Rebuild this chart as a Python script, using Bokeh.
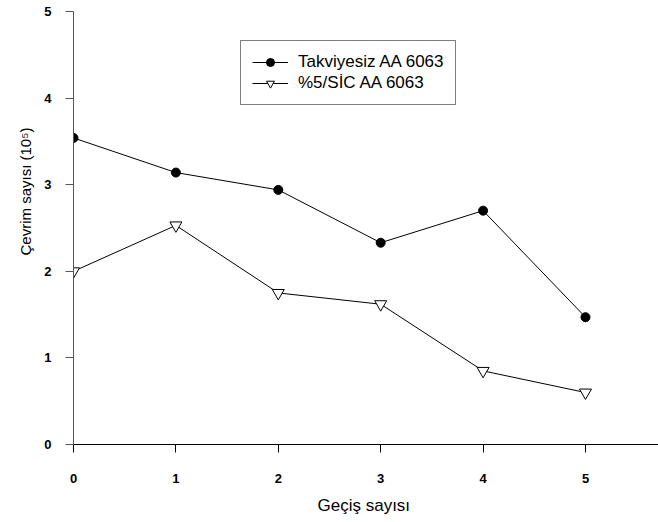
from bokeh.plotting import figure
from bokeh.models import Range1d, FixedTicker, Legend, LegendItem, Title
from bokeh.embed import file_html
from bokeh.resources import INLINE

gecis = [0, 1, 2, 3, 4, 5]
takviyesiz = [3.54, 3.14, 2.94, 2.33, 2.70, 1.47]
sic = [2.00, 2.53, 1.75, 1.62, 0.85, 0.60]
x_ticks = [0, 1, 2, 3, 4, 5]
y_ticks = [0, 1, 2, 3, 4, 5]

FONT = "Liberation Sans"

p = figure(width=658, height=522, output_backend="svg", toolbar_location=None,
           x_range=Range1d(0, 5.713), y_range=Range1d(0, 5),
           min_border_left=73, min_border_right=0, min_border_top=11, min_border_bottom=0)
p.outline_line_color = None
p.grid.visible = False
p.background_fill_color = "white"
p.border_fill_color = "white"

for ax in (p.xaxis, p.yaxis):
    ax.major_label_text_font = FONT
    ax.major_label_text_font_style = "bold"
    ax.major_label_text_font_size = "13px"
    ax.major_label_text_color = "black"
    ax.minor_tick_line_color = None
    ax.major_tick_in = 0
    ax.major_tick_out = 8
    ax.axis_line_width = 1
p.xaxis.ticker = FixedTicker(ticks=x_ticks)
p.yaxis.ticker = FixedTicker(ticks=y_ticks)
p.xaxis.axis_line_color = "black"
p.xaxis.major_tick_line_color = "black"
p.yaxis.axis_line_color = "#555555"
p.yaxis.major_tick_line_color = "#555555"
p.xaxis.major_label_standoff = 21
p.yaxis.major_label_standoff = 14

l1 = p.line(gecis, takviyesiz, line_color="black", line_width=1)
m1 = p.scatter(gecis, takviyesiz, marker="circle", size=9, fill_color="black", line_color="black")
l2 = p.line(gecis, sic, line_color="black", line_width=1)
m2 = p.scatter(gecis, sic, marker="inverted_triangle", size=12, fill_color="white", line_color="black")

legend = Legend(items=[LegendItem(label="Takviyesiz AA 6063", renderers=[l1, m1]),
                       LegendItem(label="%5/SİC AA 6063", renderers=[l2, m2])],
                location=(167, 339), padding=11, spacing=1, glyph_width=36, glyph_height=20,
                label_standoff=10, label_text_font=FONT, label_text_font_size="17px",
                label_text_color="black",
                label_height=20, border_line_color="black", border_line_width=1,
                background_fill_color="white", background_fill_alpha=1.0, margin=0)
p.add_layout(legend)

ylab = Title(text="Çevrim sayısı (10⁵)", align="left", offset=189, text_font=FONT,
             text_font_size="15px", text_font_style="normal", text_color="black", standoff=16)
p.add_layout(ylab, "left")
xlab = Title(text="Geçiş sayısı", align="left", offset=244, text_font=FONT,
             text_font_size="17px", text_font_style="normal", text_color="black", standoff=16)
p.add_layout(xlab, "below")

open("out.html", "w").write(file_html(p, INLINE))
